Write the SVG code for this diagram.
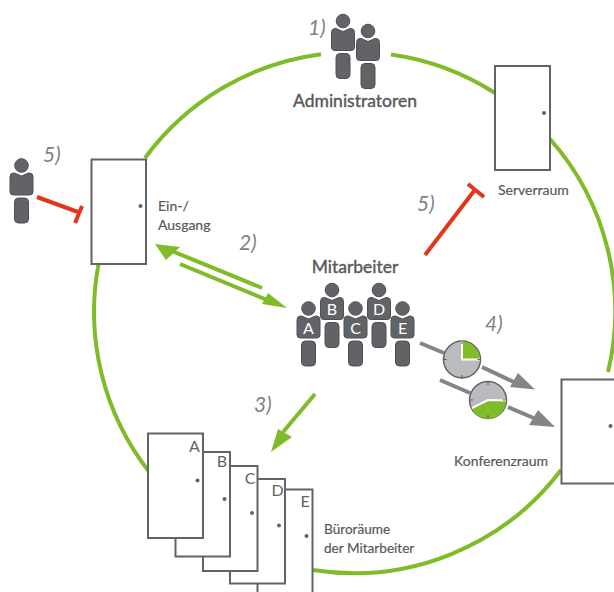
<svg xmlns="http://www.w3.org/2000/svg" xmlns:xlink="http://www.w3.org/1999/xlink" width="614" height="592" viewBox="0 0 614 592">
<style>
text{font-family:"Lato","Liberation Sans",sans-serif;fill:#58585a}
.door{fill:#fff;stroke:#626366;stroke-width:2}
.knob{fill:#626366}
.num{font-size:21px;font-style:italic;fill:#808184}
.lab{font-size:14px;stroke:#58585a;stroke-width:.2}
.lab2{font-size:13.600px;stroke:#58585a;stroke-width:.2}
.big{font-size:17.500px;stroke:#58585a;stroke-width:.4}
.let{font-size:16px;fill:#fff;text-anchor:middle}
.dl{font-size:16px;fill:#626366;text-anchor:middle}
.g{stroke:#7ebc28;stroke-width:4;fill:none}
.r{stroke:#e2351a;stroke-width:4;fill:none}
.a{stroke:#848588;stroke-width:4;fill:none}
.p{fill:#626366;stroke:#4f5053;stroke-width:1}
.tick{stroke:#58585a;stroke-width:1}
.clock{fill:#babbbe;stroke:#626366;stroke-width:1.5}
.hand{stroke:#fff;stroke-width:2;fill:none}
</style>
<defs>
<g id="person">
<circle cx="0" cy="-32.500" r="6.800" class="p"/>
<path d="M-7-25 L0-22 L7-25 H8 Q11.500-25 11.500-21 V-6 Q11.500-3 8-3 H-8 Q-11.500-3 -11.500-6 V-21 Q-11.500-25 -8-25Z" class="p"/>
<rect x="-7" y="0" width="14" height="25" rx="4" class="p"/>
</g>
</defs>
<g id="connectors">
<path class="g" d="M321 54.200A260 260 0 0 0 145 158"/>
<path class="g" d="M391 54.500A260 260 0 0 1 495 93"/>
<path class="g" d="M550 139A260 260 0 0 1 608 372"/>
<path class="g" d="M561 470A260 260 0 0 1 313 570"/>
<path class="g" d="M150 473A260 260 0 0 1 98.500 264"/>
<path class="g" d="M262 288L172 251"/>
<path fill="#7ebc28" d="M155 244L180 247 L166 260Z"/>
<path class="g" d="M180 264L272 302"/>
<path fill="#7ebc28" d="M287 308L262 304 L268 293Z"/>
<path class="g" d="M315 394L283 432"/>
<path fill="#7ebc28" d="M271 452L278 429 L292 437Z"/>
<path class="r" d="M37 197L78 212"/>
<path class="r" d="M82 206L75 223"/>
<path class="r" d="M425 255L474 191"/>
<path class="r" d="M468 184L484 197"/>
<path class="a" d="M420 343L444 353"/>
<path class="a" d="M482 367L516 383"/>
<path fill="#848588" d="M535 389.500L510 387L518 373Z"/>
<path class="a" d="M440 380L470 393"/>
<path class="a" d="M508 407L536 419"/>
<path fill="#848588" d="M555 427L529 425L538 410Z"/>
</g>
<g id="node-admins">
<use xlink:href="#person" x="343" y="53.500"/>
<use xlink:href="#person" x="368" y="63.500"/>
<text class="big" x="355" y="107" text-anchor="middle">Administratoren</text>
<text class="num" x="308" y="35">1)</text>
</g>
<g id="node-server">
<rect class="door" x="495" y="66" width="55" height="104"/>
<circle class="knob" cx="544" cy="113" r="2"/>
<text class="lab" x="498" y="195">Serverraum</text>
<text class="num" x="417" y="211">5)</text>
</g>
<g id="node-entry">
<rect class="door" x="91.500" y="159.500" width="54.500" height="104.500"/>
<circle class="knob" cx="140.500" cy="206" r="2"/>
<text class="lab" x="158" y="211">Ein-/</text>
<text class="lab" x="158" y="230">Ausgang</text>
<text class="num" x="239" y="250">2)</text>
</g>
<g id="node-intruder">
<use xlink:href="#person" x="21.500" y="198"/>
<text class="num" x="43" y="162">5)</text>
</g>
<g id="node-staff">
<text class="big" x="355" y="273" text-anchor="middle">Mitarbeiter</text>
<use xlink:href="#person" x="332" y="322.500"/>
<use xlink:href="#person" x="379" y="322.500"/>
<use xlink:href="#person" x="308.500" y="341"/>
<use xlink:href="#person" x="355.500" y="341"/>
<use xlink:href="#person" x="402.500" y="341"/>
<text class="let" x="332" y="315">B</text>
<text class="let" x="379" y="315">D</text>
<text class="let" x="308.500" y="334">A</text>
<text class="let" x="355.500" y="334">C</text>
<text class="let" x="402.500" y="334">E</text>
</g>
<g id="node-clocks">
<text class="num" x="485" y="331">4)</text>
<circle class="clock" cx="462" cy="359.500" r="18.500"/>
<path fill="#7ebc28" d="M462 359.500V341.500A18 18 0 0 1 480 359.500Z"/>
<path class="hand" d="M462 341V359.500H480"/>
<g class="tick"><path d="M462 341v3M462 375v3M443.500 359.500h3M477.500 359.500h3"/></g>
<circle class="clock" cx="488" cy="400" r="18.500"/>
<path fill="#7ebc28" d="M488 400L506 400A18 18 0 0 1 472 409Z"/>
<path class="hand" d="M472 408L488 400L506 400.500"/>
<g class="tick"><path d="M488 382v3M488 415v3M470 400h3M503 400h3"/></g>
</g>
<g id="node-conference">
<rect class="door" x="561.500" y="379.500" width="60" height="104"/>
<circle class="knob" cx="610.500" cy="426" r="2"/>
<text class="lab" x="454" y="466">Konferenzraum</text>
</g>
<g id="node-offices">
<rect class="door" x="257.500" y="489.500" width="55" height="130"/>
<circle class="knob" cx="306.500" cy="536" r="2"/>
<text class="dl" x="305" y="506.500">E</text>
<rect class="door" x="230" y="479" width="55" height="104.500"/>
<circle class="knob" cx="279" cy="525.500" r="2"/>
<text class="dl" x="277.500" y="496">D</text>
<rect class="door" x="203" y="466" width="54.500" height="105"/>
<circle class="knob" cx="252" cy="513" r="2"/>
<text class="dl" x="250" y="484">C</text>
<rect class="door" x="175.500" y="452" width="54.500" height="104.500"/>
<circle class="knob" cx="224.500" cy="499" r="2"/>
<text class="dl" x="222" y="467">B</text>
<rect class="door" x="148" y="433.500" width="55" height="104.500"/>
<circle class="knob" cx="197.500" cy="480.500" r="2"/>
<text class="dl" x="194.500" y="452">A</text>
<text class="lab2" x="324" y="534">Büroräume</text>
<text class="lab2" x="324" y="553">der Mitarbeiter</text>
<text class="num" x="254" y="412">3)</text>
</g>
</svg>
